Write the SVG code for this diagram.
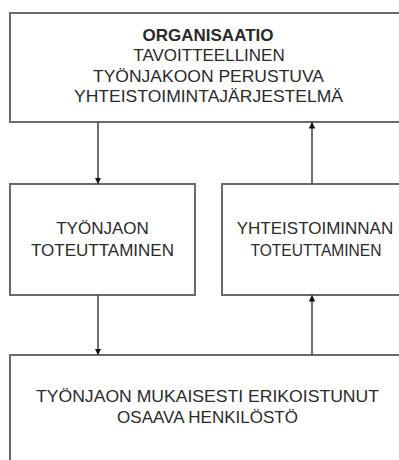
<svg xmlns="http://www.w3.org/2000/svg" width="399" height="460" viewBox="0 0 399 460">
  <style>
    .box { fill: #ffffff; stroke: #6a6a6a; stroke-width: 2; }
    .lbl { font-family: "Liberation Sans", Arial, sans-serif; font-size: 17px; fill: #2a2a2a; text-anchor: middle; }
    .b { font-weight: bold; }
    .wire { stroke: #4a4a4a; stroke-width: 1.6; fill: none; }
  </style>
  <defs>
    <marker id="head" viewBox="0 0 10 10" refX="10" refY="5" markerWidth="6.5" markerHeight="6.5" markerUnits="userSpaceOnUse" orient="auto">
      <path d="M0,0 L10,5 L0,10 Z" fill="#111"/>
    </marker>
  </defs>
  <rect x="0" y="0" width="399" height="460" fill="#ffffff"/>

  <g id="organisaatio">
    <rect class="box" x="10" y="13" width="400" height="109"/>
    <text class="lbl b" x="208" y="40.5">ORGANISAATIO</text>
    <text class="lbl" x="209" y="61">TAVOITTEELLINEN</text>
    <text class="lbl" x="208.5" y="81.5" textLength="231" lengthAdjust="spacingAndGlyphs">TYÖNJAKOON PERUSTUVA</text>
    <text class="lbl" x="208.5" y="102" textLength="269" lengthAdjust="spacingAndGlyphs">YHTEISTOIMINTAJÄRJESTELMÄ</text>
  </g>

  <g id="tyonjaon-toteuttaminen">
    <rect class="box" x="10" y="184" width="185" height="111"/>
    <text class="lbl" x="102.5" y="234">TYÖNJAON</text>
    <text class="lbl" x="102.5" y="255.5">TOTEUTTAMINEN</text>
  </g>

  <g id="yhteistoiminnan-toteuttaminen">
    <rect class="box" x="222" y="184" width="190" height="111"/>
    <text class="lbl" x="315" y="234">YHTEISTOIMINNAN</text>
    <text class="lbl" x="316" y="255.5" textLength="131" lengthAdjust="spacingAndGlyphs">TOTEUTTAMINEN</text>
  </g>

  <g id="henkilosto">
    <rect class="box" x="10" y="355" width="400" height="120"/>
    <text class="lbl" x="207.5" y="402" textLength="343" lengthAdjust="spacingAndGlyphs">TYÖNJAON MUKAISESTI ERIKOISTUNUT</text>
    <text class="lbl" x="207.5" y="423">OSAAVA HENKILÖSTÖ</text>
  </g>

  <g id="connectors">
    <line class="wire" x1="98" y1="122" x2="98" y2="184" marker-end="url(#head)"/>
    <line class="wire" x1="98" y1="295" x2="98" y2="355" marker-end="url(#head)"/>
    <line class="wire" x1="312" y1="355" x2="312" y2="295" marker-end="url(#head)"/>
    <line class="wire" x1="312" y1="184" x2="312" y2="122" marker-end="url(#head)"/>
  </g>
</svg>
